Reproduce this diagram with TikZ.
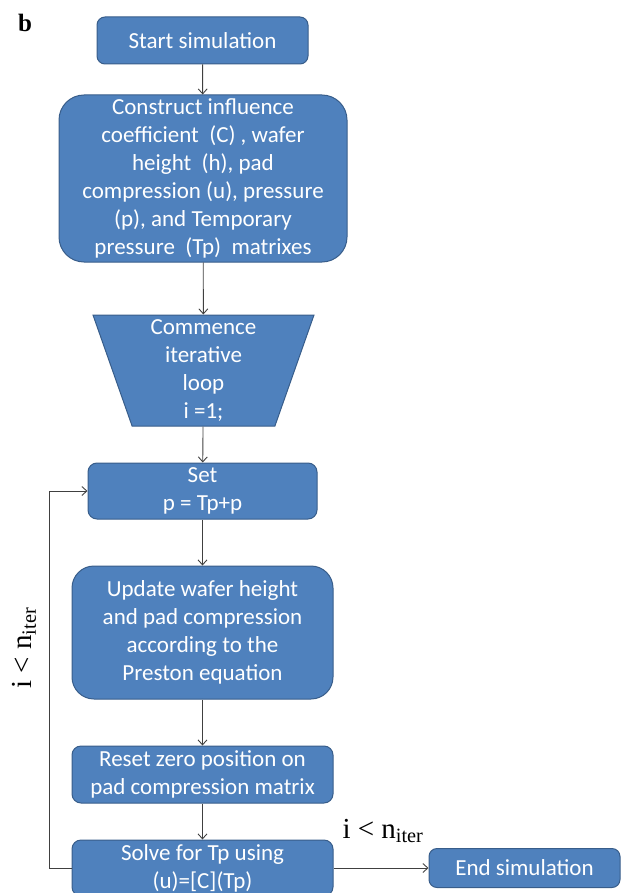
\documentclass[tikz,border=0pt]{standalone}
\usepackage{fontspec}
\setmainfont{Liberation Serif}
\newfontfamily\boxfont{Carlito}
\usetikzlibrary{shapes.geometric,arrows.meta}
\definecolor{boxblue}{HTML}{4F81BD}
\definecolor{boxline}{HTML}{385D8A}
\definecolor{lineclr}{HTML}{404040}
\begin{document}
\begin{tikzpicture}[x=1pt, y=-1pt,
		box/.style={draw=boxline, line width=1pt, fill=boxblue, text=white, align=center, inner sep=0pt,
			font=\boxfont\fontsize{23}{28}\selectfont},
		arr/.style={draw=lineclr, line width=0.9pt, -{Straight Barb[length=5pt,width=9pt]}},
		lbl/.style={font=\fontsize{29}{32}\selectfont, inner sep=0pt}]
	\clip (0,0) rectangle (623,893);
	\useasboundingbox (0,0) rectangle (623,893);

	\node[font=\bfseries\fontsize{25}{28}\selectfont] (tag) at (25,23) {b};

	\node[box, rounded corners=8pt, minimum width=211pt, minimum height=47pt] (start) at (202.5,40.5) {Start simulation};
	\node[box, rounded corners=25pt, minimum width=288pt, minimum height=167pt] (build) at (203,178.5)
		{Construct influence\\coefficient\ \ (C) , wafer\\height\ \ (h), pad\\compression (u), pressure\\(p), and Temporary\\pressure\ \ (Tp)\ \ matrixes};
	\node[box, trapezium, shape border rotate=180, trapezium left angle=69, trapezium right angle=69,
		trapezium stretches body, minimum width=221pt, minimum height=111pt] (loop) at (203.5,370.5)
		{Commence\\iterative\\loop\\i =1;};
	\node[box, rounded corners=9pt, minimum width=229pt, minimum height=56pt] (set) at (202.5,491) {Set\\p = Tp+p};
	\node[box, rounded corners=22pt, minimum width=261pt, minimum height=133pt] (update) at (202.5,632.5)
		{Update wafer height\\and pad compression\\according to the\\Preston equation};
	\node[box, rounded corners=9pt, minimum width=261pt, minimum height=57pt] (reset) at (202.5,774.5)
		{Reset zero position on\\pad compression matrix};
	\node[box, rounded corners=9pt, minimum width=261pt, minimum height=56pt] (solve) at (202.5,868)
		{Solve for Tp using\\(u)=[C](Tp)};
	\node[box, rounded corners=8pt, minimum width=191pt, minimum height=39pt] (end) at (524.5,868) {End simulation};

	\coordinate (turn) at (49,868);

	\draw[arr] (start) -- (build);
	\draw[arr] (build) -- (loop);
	\draw[arr] (loop) -- (set);
	\draw[arr] (set) -- (update);
	\draw[arr] (update) -- (reset);
	\draw[arr] (reset) -- (solve);
	\draw[arr] (solve) -- (end);
	\draw[arr] (solve.west) -- (turn) |- (set.west);

	\node[lbl, rotate=90] (again) at (24,648) {i < n\textsubscript{iter}};
	\node[lbl] (done) at (383,831) {i < n\textsubscript{iter}};
\end{tikzpicture}
\end{document}
